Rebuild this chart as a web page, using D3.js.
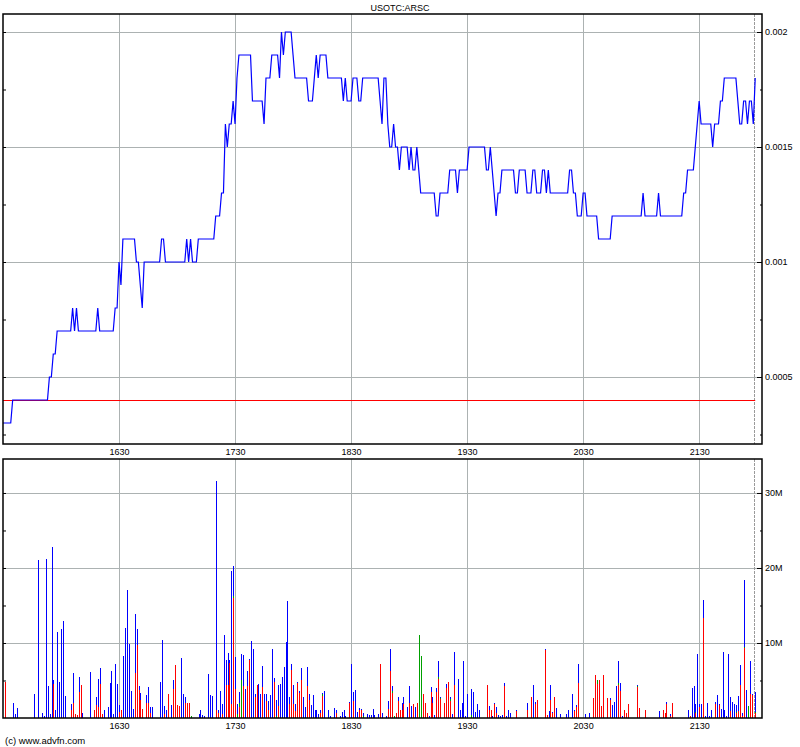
<!DOCTYPE html>
<html><head><meta charset="utf-8">
<script src="https://cdn.jsdelivr.net/npm/d3@7"></script>
<style>
body{margin:0;background:#fff;}
svg{display:block;font-family:"Liberation Sans",Arial,sans-serif;}
</style></head><body>
<svg id="chart" width="800" height="747"></svg>
<script>
const title = "USOTC:ARSC";
const copyright = "(c) www.advfn.com";
// minutes after 15:30 (one point per minute)
const xTickMinutes = [60, 120, 180, 240, 300, 360];
const xTickLabels = ["1630", "1730", "1830", "1930", "2030", "2130"];
const priceTicks = [0.0005, 0.001, 0.0015, 0.002];
const priceTickLabels = ["0.0005", "0.001", "0.0015", "0.002"];
const priceMinorTicks = [0.00025, 0.00075, 0.00125, 0.00175];
const refPrice = 0.0004;
const volTicks = [10, 20, 30];
const volTickLabels = ["10M", "20M", "30M"];
const volMinorTicks = [5, 15, 25];

const price = [
.0003,.0003,.0003,.0003,.0003,.0004,.0004,.0004,.0004,.0004,
.0004,.0004,.0004,.0004,.0004,.0004,.0004,.0004,.0004,.0004,
.0004,.0004,.0004,.0004,.0005,.0005,.0006,.0006,.0007,.0007,
.0007,.0007,.0007,.0007,.0007,.0007,.0008,.0007,.0008,.0007,
.0007,.0007,.0007,.0007,.0007,.0007,.0007,.0007,.0007,.0008,
.0007,.0007,.0007,.0007,.0007,.0007,.0007,.0007,.0008,.0008,
.001,.0009,.0011,.0011,.0011,.0011,.0011,.0011,.0011,.001,
.001,.0009,.0008,.001,.001,.001,.001,.001,.001,.001,
.001,.001,.0011,.0011,.001,.001,.001,.001,.001,.001,
.001,.001,.001,.001,.001,.0011,.001,.0011,.001,.001,
.001,.0011,.0011,.0011,.0011,.0011,.0011,.0011,.0011,.0011,
.0012,.0012,.0012,.0013,.0013,.0016,.0015,.0016,.0016,.0017,
.0016,.0018,.0019,.0019,.0019,.0019,.0019,.0019,.0019,.0017,
.0017,.0017,.0017,.0017,.0017,.0016,.0018,.0018,.0018,.0019,
.0019,.0019,.0019,.0018,.002,.0019,.002,.002,.002,.002,
.0019,.0018,.0018,.0018,.0018,.0018,.0018,.0018,.0017,.0017,
.0017,.0018,.0019,.0018,.0019,.0019,.0019,.0019,.0018,.0018,
.0018,.0018,.0018,.0018,.0018,.0018,.0017,.0018,.0017,.0017,
.0017,.0018,.0018,.0018,.0017,.0017,.0018,.0018,.0018,.0018,
.0018,.0018,.0018,.0018,.0018,.0017,.0016,.0018,.0018,.0016,
.0015,.0015,.0016,.0015,.0015,.0014,.0015,.0015,.0015,.0015,
.0014,.0015,.0014,.0014,.0015,.0014,.0013,.0013,.0013,.0013,
.0013,.0013,.0013,.0013,.0012,.0012,.0013,.0013,.0013,.0013,
.0013,.0014,.0014,.0014,.0014,.0013,.0014,.0014,.0014,.0014,
.0014,.0015,.0015,.0015,.0015,.0015,.0015,.0015,.0015,.0015,
.0014,.0014,.0015,.0014,.0013,.0012,.0013,.0013,.0014,.0014,
.0014,.0014,.0014,.0014,.0014,.0013,.0013,.0014,.0014,.0014,
.0014,.0013,.0013,.0013,.0014,.0014,.0013,.0013,.0013,.0014,
.0014,.0013,.0014,.0013,.0013,.0013,.0013,.0013,.0013,.0013,
.0013,.0013,.0013,.0014,.0014,.0013,.0013,.0012,.0012,.0012,
.0013,.0013,.0012,.0012,.0012,.0012,.0012,.0012,.0011,.0011,
.0011,.0011,.0011,.0011,.0011,.0012,.0012,.0012,.0012,.0012,
.0012,.0012,.0012,.0012,.0012,.0012,.0012,.0012,.0012,.0012,
.0012,.0013,.0012,.0012,.0012,.0012,.0012,.0012,.0012,.0013,
.0012,.0012,.0012,.0012,.0012,.0012,.0012,.0012,.0012,.0012,
.0012,.0012,.0013,.0013,.0014,.0014,.0014,.0014,.0015,.0016,
.0017,.0016,.0016,.0016,.0016,.0016,.0016,.0015,.0016,.0016,
.0016,.0017,.0017,.0018,.0018,.0018,.0018,.0018,.0018,.0018,
.0017,.0016,.0016,.0017,.0017,.0016,.0017,.0017,.0016,.0018
];

// volume per minute, millions of shares
const volTotal = [
0,4.8,0,0,0,2.0,0.5,1.3,0,0,
0,0,0,0,0,0,3.2,0,21.0,0,
0.6,0.3,21.2,4.3,0.5,22.8,5.1,1.0,11.5,4.8,
11.8,12.9,2.9,0,0,1.9,6.0,0.5,0.4,5.5,
4.4,0.6,0,0,0,6.1,0,1.0,2.8,5.2,
6.7,0.5,1.1,0,1.5,4.6,6.3,0.5,7.2,4.5,
1.7,1.1,8.3,12.0,17.0,9.8,3.6,1.2,13.9,11.8,
4.2,3.3,1.2,0,3.1,4.1,1.4,1.5,0,0,
0,4.8,10.4,1.6,1.1,3.2,0,1.7,5.1,7.0,
1.7,1.6,8.0,3.2,2.8,2.0,2.0,0.3,0,0,
0,0.5,1.0,0.4,0.3,0,5.9,3.0,2.9,0,
31.6,1.0,3.6,1.8,11.1,7.7,8.7,7.7,19.6,20.2,
8.1,1.9,3.5,8.5,8.4,3.9,6.2,7.9,10.2,9.2,
3.2,4.4,4.5,3.2,6.9,3.2,3.2,2.3,3.1,9.2,
5.3,2.4,4.4,4.5,5.5,6.8,10.1,15.6,2.8,7.2,
4.4,1.9,4.8,3.6,6.6,2.8,1.5,6.8,3.2,1.7,
3.1,1.0,1.0,0.5,1.1,3.3,3.6,0,1.0,0.3,
0,1.3,1.0,0,0.2,0.8,1.0,0.3,0,2.1,
7.2,3.5,3.7,0.8,1.3,1.2,0.6,0,0.5,0.4,
0.4,1.2,0.4,0,0.5,7.2,0.6,0,0.3,2.3,
9.2,4.2,0.3,0.7,2.8,1.1,2.0,2.8,0,1.5,
4.2,1.6,1.9,1.5,2.0,11.0,8.3,3.2,2.0,0.7,
0.3,4.1,2.8,0.4,4.0,7.6,2.8,0,2.0,4.5,
4.8,2.8,0.5,8.8,0,5.2,1.0,2.0,7.6,0.3,
3.2,0,3.9,3.5,0.8,1.9,1.1,0,0,0,
4.4,1.6,1.1,0.3,2.0,1.5,0.4,0.3,0.4,4.6,
0.3,1.1,0.7,0,0,1.1,0,0,0,0,
0,2.0,0,2.8,4.4,2.1,2.4,0,0,0,
9.2,0.4,0.9,4.4,0.8,2.8,1.3,0,0.5,0,
0,0.5,1.0,0,3.2,1.0,1.7,7.2,0,0,
0,0.5,0,0.6,0,2.6,5.7,5.0,5.0,1.6,
5.7,0,2.7,0,2.7,1.7,2.1,4.3,7.6,4.6,
0.3,1.1,0.6,1.8,0,0,0,0,4.4,1.3,
0,0,1.1,0,0,0,0,0,0,0.9,
0,1.1,0.7,2.1,0,0.5,2.0,0,0,0,
0,0,0,0,1.1,0.3,4.0,4.3,1.9,8.5,
1.9,1.9,15.7,0.3,2.0,0.3,1.1,0,2.1,3.1,
1.9,1.2,8.8,1.1,0.3,8.5,2.8,2.1,1.9,1.7,
2.9,7.1,0.6,18.4,3.7,1.6,7.6,3.2,0,3.5
];
const volRed = [
0,4.8,0,0,0,0,0,0,0,0,
0,0,0,0,0,0,0,0,0,0,
0,0,0,0,0,0,4.5,0,0,0,
0,0,0,0,0,1.0,2.0,0.5,0.4,3.4,
4.4,0,0,0,0,0,0,1.0,1.7,1.5,
4.5,0.5,0,0,0,0,0,0,0,0,
0.8,1.1,0,0,0,0,0,0,6.0,9.7,
3.7,2.4,1.2,0,2.0,2.0,0.6,0,0,0,
0,0,0,0.5,0,3.2,0,0,3.8,7.0,
1.7,1.6,0,0,2.0,2.0,2.0,0,0,0,
0,0,0,0,0,0,0,0,0,0,
1.0,0.6,0,0.5,0,4.4,4.4,7.3,1.9,16.0,
3.9,0,1.5,0,4.2,0,4.2,7.7,0,0,
2.8,4.4,0,0,4.1,0,2.3,1.1,0,0,
4.8,0,1.6,0,0,0,0,0,1.9,6.4,
1.9,0.9,4.7,3.3,5.1,0,0,4.2,2.4,0,
0,0,0,0,0.6,2.9,0,0,0,0,
0,0,0.6,0,0,0,0,0,0,2.0,
0,2.3,0,0,1.0,1.1,0,0,0,0,
0,0,0,0,0,7.2,0,0,0,1.2,
6.3,3.3,0,0.7,2.2,1.1,1.0,1.9,0,0,
2.0,0,1.9,0,2.0,0,0,3.2,2.0,0.7,
0,3.5,2.0,0,3.4,5.2,2.5,0,2.0,4.0,
4.8,2.3,0,4.4,0,0,0,0,0,0,
0,0,0,0,0,0,0,0,0,0,
4.4,1.0,1.0,0,1.9,0.6,0,0,0,4.2,
0,0,0,0,0,0.9,0,0,0,0,
0,1.0,0,2.8,0,1.9,2.4,0,0,0,
9.0,0.4,0,2.4,0.6,2.8,0,0,0,0,
0,0,0,0,0,0.9,1.4,4.6,0,0,
0,0,0,0,0,2.6,5.7,4.5,5.0,1.6,
5.7,0,2.7,0,2.4,0,0,0,4.4,3.6,
0,1.1,0.6,1.8,0,0,0,0,4.1,1.3,
0,0,1.1,0,0,0,0,0,0,0,
0,1.1,0.7,1.9,0,0.3,2.0,0,0,0,
0,0,0,0,0,0.3,0,0,0.7,0,
1.5,0,13.3,0,0,0,0,0,1.8,0,
1.7,0,0,0,0,0,0.9,0,0,0.6,
0.9,4.4,0.3,9.3,0,0,3.2,3.0,0,0.6
];
const volGreenMinute = [97,119,121,122,123,141,165,186,201,202,215,216,225,226,231,242,252,307,318,328,358,379,383,385,389];
const volGreenValue  = [0.3,0.2,0.5,0.5,5.0,0.3,0.3,0.2,0.3,0.3,11.0,8.3,0.2,0.2,0.2,0.4,0.1,0.5,0.2,0.1,0.1,0.2,0.2,1.6,0.2];

const COL_BLUE = "#0000ff", COL_RED = "#ff0000", COL_GREEN = "#00a000";
const GRID = "#acb2b2";

const svg = d3.select("#chart");
const x = d3.scaleLinear().domain([0, 392.5]).range([3, 762]);
const yP = d3.scaleLinear().domain([0.0002087, 0.0020783]).range([444, 14]);
const yV = d3.scaleLinear().domain([0, 34.53]).range([718, 459]);

const P = {l: 3, r: 762, t1: 14, b1: 444, t2: 459, b2: 718};
const lastIdx = price.length - 1;

// gridlines
const grid = svg.append("g").attr("stroke", GRID).attr("stroke-width", 1).attr("shape-rendering", "crispEdges");
[[P.t1, P.b1], [P.t2, P.b2]].forEach(([t, b]) => {
  grid.append("g").selectAll("line").data(xTickMinutes).join("line")
    .attr("x1", d => Math.round(x(d)) + 0.5).attr("x2", d => Math.round(x(d)) + 0.5)
    .attr("y1", t).attr("y2", b);
});
grid.append("g").selectAll("line").data(priceTicks).join("line")
  .attr("x1", P.l).attr("x2", P.r)
  .attr("y1", d => Math.round(yP(d)) + 0.5).attr("y2", d => Math.round(yP(d)) + 0.5);
grid.append("g").selectAll("line").data(volTicks).join("line")
  .attr("x1", P.l).attr("x2", P.r)
  .attr("y1", d => Math.round(yV(d)) + 0.5).attr("y2", d => Math.round(yV(d)) + 0.5);

// current time marker
[[P.t1, P.b1], [P.t2, P.b2]].forEach(([t, b]) => {
  svg.append("line").attr("x1", Math.round(x(lastIdx)) - 0.5).attr("x2", Math.round(x(lastIdx)) - 0.5)
    .attr("y1", t).attr("y2", b).attr("stroke", "#9a9a9a").attr("stroke-dasharray", "3,1")
    .attr("shape-rendering", "crispEdges");
});

// reference line
svg.append("line").attr("x1", x(0)).attr("x2", x(lastIdx))
  .attr("y1", Math.round(yP(refPrice)) + 0.5).attr("y2", Math.round(yP(refPrice)) + 0.5)
  .attr("stroke", COL_RED).attr("stroke-width", 1.2);

// price line
svg.append("path").datum(price)
  .attr("fill", "none").attr("stroke", COL_BLUE).attr("stroke-width", 1.2)
  .attr("stroke-linejoin", "miter")
  .attr("d", d3.line().x((d, i) => x(i)).y(d => yP(d)));

// volume bars (stacked red / green / blue)
const greenMap = new Map(volGreenMinute.map((m, i) => [m, volGreenValue[i]]));
const rows = volTotal.map((t, i) => {
  const r = volRed[i], g = greenMap.get(i) || 0;
  return {i, red: r, green: g, blue: Math.max(0, t - r - g)};
}).filter(d => d.red + d.green + d.blue > 0);
const stack = d3.stack().keys(["red", "green", "blue"])(rows);
const colors = {red: COL_RED, green: COL_GREEN, blue: COL_BLUE};
svg.append("g").attr("shape-rendering", "crispEdges").selectAll("g").data(stack).join("g")
  .attr("fill", s => colors[s.key])
  .selectAll("rect").data(s => s.filter(d => d[1] > d[0])).join("rect")
  .attr("x", d => Math.round(x(d.data.i) + 0.2))
  .attr("width", 1.2)
  .attr("y", d => yV(d[1]))
  .attr("height", d => yV(d[0]) - yV(d[1]));

// frames
[[P.t1, P.b1], [P.t2, P.b2]].forEach(([t, b]) => {
  svg.append("rect").attr("x", P.l).attr("y", t).attr("width", P.r - P.l).attr("height", b - t)
    .attr("fill", "none").attr("stroke", "#000").attr("stroke-width", 1.5);
});

function styleAxis(g) {
  g.select(".domain").remove();
  g.attr("font-family", null).attr("font-size", null);
  g.selectAll("text").attr("fill", "#000").attr("font-size", 9);
  g.selectAll("line").attr("stroke", "#000");
}

// right axes
svg.append("g").attr("transform", `translate(${P.r},0)`)
  .call(d3.axisRight(yP).tickValues(priceTicks).tickFormat((d, i) => priceTickLabels[i])
    .tickSizeInner(-5).tickSizeOuter(0).tickPadding(3)).call(styleAxis);
svg.append("g").attr("transform", `translate(${P.r},0)`)
  .call(d3.axisRight(yP).tickValues(priceMinorTicks).tickFormat("")
    .tickSizeInner(-2).tickSizeOuter(0)).call(styleAxis);
svg.append("g").attr("transform", `translate(${P.r},0)`)
  .call(d3.axisRight(yV).tickValues(volTicks).tickFormat((d, i) => volTickLabels[i])
    .tickSizeInner(-5).tickSizeOuter(0).tickPadding(3)).call(styleAxis);
svg.append("g").attr("transform", `translate(${P.r},0)`)
  .call(d3.axisRight(yV).tickValues(volMinorTicks).tickFormat("")
    .tickSizeInner(-2).tickSizeOuter(0)).call(styleAxis);

// left tick marks
svg.append("g").attr("transform", `translate(${P.l},0)`)
  .call(d3.axisLeft(yP).tickValues(priceTicks.concat(priceMinorTicks)).tickFormat("")
    .tickSizeInner(-3).tickSizeOuter(0)).call(styleAxis);
svg.append("g").attr("transform", `translate(${P.l},0)`)
  .call(d3.axisLeft(yV).tickValues(volTicks.concat(volMinorTicks)).tickFormat("")
    .tickSizeInner(-3).tickSizeOuter(0)).call(styleAxis);

// bottom time labels
[P.b1, P.b2].forEach(b => {
  svg.append("g").attr("transform", `translate(0,${b})`)
    .call(d3.axisBottom(x).tickValues(xTickMinutes).tickFormat((d, i) => xTickLabels[i])
      .tickSize(0).tickPadding(5)).call(styleAxis);
});

// title & copyright
svg.append("text").attr("x", 400).attr("y", 11).attr("text-anchor", "middle")
  .attr("font-size", 9).text(title);
svg.append("text").attr("x", 5).attr("y", 744).attr("font-size", 9.5).text(copyright);
</script>
</body></html>
